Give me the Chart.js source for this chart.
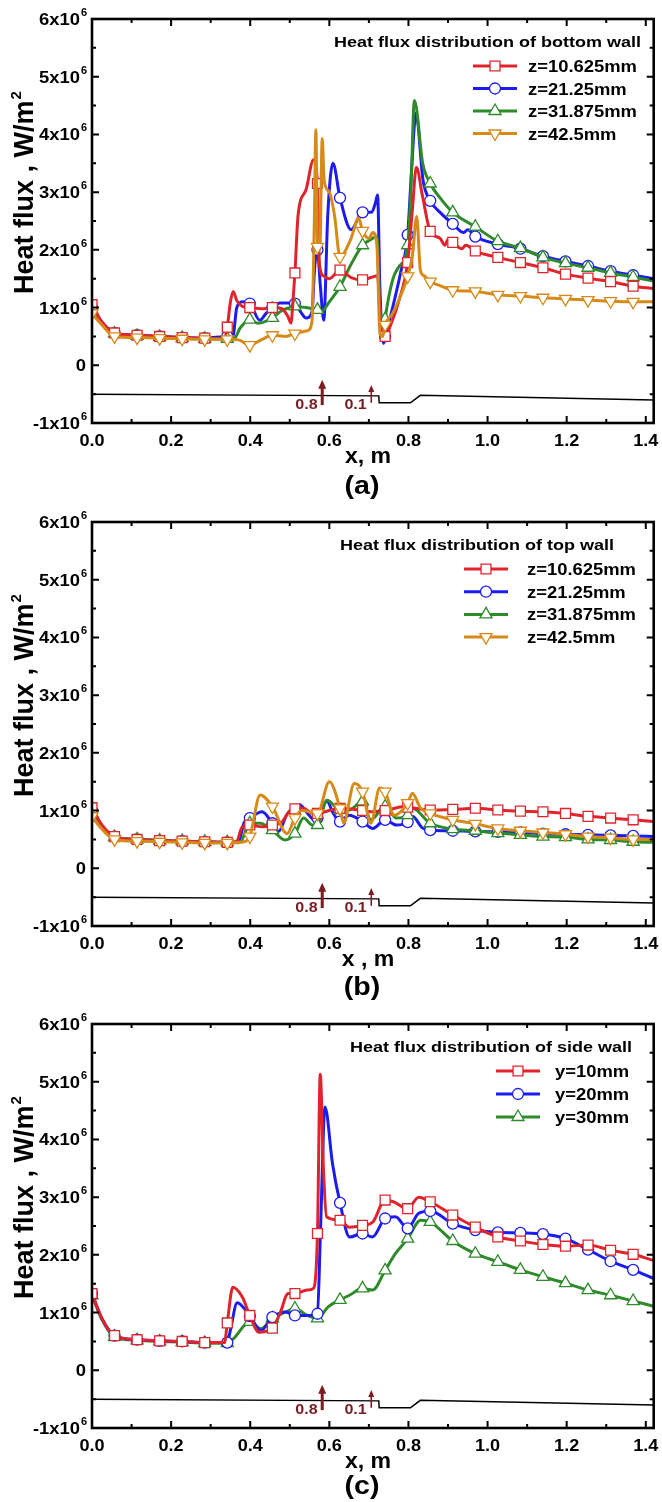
<!DOCTYPE html>
<html>
<head>
<meta charset="utf-8">
<script src="https://cdn.jsdelivr.net/npm/chart.js@4.4.0/dist/chart.umd.min.js"></script>
<style>
  body { margin: 0; background: #fff; }
  .panel { position: absolute; left: 0; width: 662px; }
</style>
</head>
<body>
<div class="panel" style="top:0"><canvas id="chartA" width="662" height="500"></canvas></div>
<div class="panel" style="top:503px"><canvas id="chartB" width="662" height="500"></canvas></div>
<div class="panel" style="top:1005px"><canvas id="chartC" width="662" height="497"></canvas></div>
<script>
// ----- DATOS (heat flux en unidades de 10^6 W/m2, x en m) -----

// posiciones x donde se dibujan los símbolos
const markX = [0, 0.057, 0.114, 0.171, 0.228, 0.285, 0.342, 0.399, 0.456, 0.513, 0.57, 0.627, 0.684,
  0.741, 0.798, 0.855, 0.912, 0.969, 1.026, 1.083, 1.14, 1.197, 1.254, 1.311, 1.368];

// ejes
const xMajor = [0, 0.2, 0.4, 0.6, 0.8, 1.0, 1.2, 1.4];
const xMinor = [0.1, 0.3, 0.5, 0.7, 0.9, 1.1, 1.3];
const xLabels = ['0.0', '0.2', '0.4', '0.6', '0.8', '1.0', '1.2', '1.4'];
const yMajor = [-1, 0, 1, 2, 3, 4, 5, 6];
const yMinor = [-0.5, 0.5, 1.5, 2.5, 3.5, 4.5, 5.5];
const yLabels = ['-1x10', '0', '1x10', '2x10', '3x10', '4x10', '5x10', '6x10'];

// perfil del canal (línea negra)
const wallProfile = [[0, -0.5], [0.725, -0.53], [0.726, -0.65], [0.805, -0.65], [0.83, -0.52], [1.42, -0.6]];

// flechas de inyección
const arrowX = [0.582, 0.706];
const arrowFrom = [-0.69, -0.65];
const arrowTo = [-0.25, -0.34];
const arrowLabels = ['0.8', '0.1'];

// (a) pared inferior
const bottomZ1 = [[0,1.05],[0.025,0.75],[0.057,0.56],[0.114,0.52],[0.171,0.5],[0.228,0.48],[0.285,0.47],[0.334,0.46],[0.342,0.66],[0.35,1.1],[0.357,1.28],[0.366,1.12],[0.38,1.02],[0.399,1.0],[0.43,0.98],[0.456,1.0],[0.48,0.98],[0.495,0.85],[0.503,0.73],[0.508,1.1],[0.513,1.6],[0.521,2.6],[0.541,3.04],[0.56,3.56],[0.57,3.15],[0.575,1.75],[0.585,1.55],[0.6,1.5],[0.627,1.65],[0.655,1.52],[0.684,1.48],[0.705,1.52],[0.722,1.55],[0.729,0.8],[0.741,0.5],[0.755,0.7],[0.775,1.1],[0.798,1.78],[0.81,2.7],[0.82,3.43],[0.835,2.95],[0.855,2.32],[0.88,2.2],[0.892,2.08],[0.9,2.18],[0.912,2.13],[0.935,2.02],[0.945,2.08],[0.969,1.98],[1.026,1.87],[1.083,1.78],[1.14,1.69],[1.197,1.58],[1.254,1.51],[1.311,1.45],[1.368,1.37],[1.42,1.33]];
const bottomZ2 = [[0,1.0],[0.025,0.75],[0.057,0.56],[0.114,0.52],[0.171,0.5],[0.228,0.48],[0.285,0.47],[0.342,0.5],[0.356,0.5],[0.366,1.0],[0.38,1.1],[0.399,1.07],[0.424,0.78],[0.44,0.9],[0.456,1.0],[0.475,1.08],[0.495,1.08],[0.513,1.07],[0.527,0.93],[0.541,0.82],[0.556,0.92],[0.563,1.7],[0.57,2.0],[0.577,1.4],[0.586,0.78],[0.596,2.6],[0.609,3.5],[0.627,2.9],[0.655,2.35],[0.684,2.65],[0.706,2.65],[0.716,2.8],[0.722,2.95],[0.728,1.3],[0.737,0.38],[0.741,0.5],[0.76,1.0],[0.78,1.6],[0.798,2.26],[0.808,3.4],[0.819,4.37],[0.837,3.2],[0.855,2.85],[0.88,2.65],[0.912,2.45],[0.94,2.3],[0.95,2.35],[0.969,2.23],[1.026,2.1],[1.083,2.02],[1.14,1.89],[1.197,1.8],[1.254,1.72],[1.311,1.63],[1.368,1.56],[1.42,1.5]];
const bottomZ3 = [[0,0.95],[0.025,0.72],[0.057,0.55],[0.114,0.51],[0.171,0.49],[0.228,0.47],[0.285,0.46],[0.342,0.46],[0.36,0.47],[0.375,0.65],[0.399,0.79],[0.42,0.73],[0.456,0.82],[0.48,0.95],[0.5,1.0],[0.513,1.02],[0.54,1.0],[0.57,0.96],[0.58,0.93],[0.6,1.1],[0.627,1.36],[0.655,1.75],[0.684,2.08],[0.705,2.18],[0.72,2.23],[0.728,1.0],[0.737,0.55],[0.741,0.8],[0.76,1.48],[0.775,1.7],[0.798,2.08],[0.806,3.0],[0.815,4.59],[0.836,3.5],[0.855,3.15],[0.88,2.9],[0.912,2.65],[0.969,2.4],[1.026,2.15],[1.083,2.03],[1.14,1.87],[1.197,1.77],[1.254,1.69],[1.311,1.6],[1.368,1.53],[1.42,1.46]];
const bottomZ4 = [[0,0.9],[0.025,0.7],[0.057,0.5],[0.114,0.48],[0.171,0.47],[0.228,0.46],[0.285,0.45],[0.342,0.45],[0.37,0.44],[0.399,0.35],[0.43,0.45],[0.456,0.52],[0.49,0.5],[0.513,0.55],[0.545,0.6],[0.556,0.75],[0.562,2.5],[0.566,4.08],[0.57,2.05],[0.576,2.0],[0.582,3.93],[0.587,3.2],[0.6,3.0],[0.613,2.6],[0.627,1.88],[0.655,2.2],[0.674,2.55],[0.684,2.33],[0.7,2.2],[0.71,2.3],[0.72,2.1],[0.728,0.55],[0.735,0.5],[0.741,0.7],[0.76,0.9],[0.78,1.2],[0.798,1.54],[0.81,1.9],[0.821,2.58],[0.83,1.65],[0.84,1.55],[0.855,1.45],[0.88,1.38],[0.912,1.3],[0.969,1.28],[1.026,1.22],[1.083,1.2],[1.14,1.17],[1.197,1.15],[1.254,1.13],[1.311,1.11],[1.368,1.1],[1.42,1.1]];

// (b) pared superior
const topZ1 = [[0,1.05],[0.025,0.75],[0.057,0.55],[0.114,0.5],[0.171,0.48],[0.228,0.47],[0.285,0.46],[0.342,0.45],[0.365,0.46],[0.38,0.72],[0.399,0.75],[0.43,0.72],[0.456,0.75],[0.48,0.8],[0.5,1.0],[0.513,1.03],[0.535,1.04],[0.557,0.95],[0.57,0.95],[0.6,1.0],[0.627,1.04],[0.684,1.0],[0.705,0.98],[0.741,1.0],[0.79,1.07],[0.798,1.06],[0.855,1.01],[0.912,1.02],[0.969,1.04],[1.026,1.01],[1.083,0.99],[1.14,0.98],[1.197,0.95],[1.254,0.9],[1.311,0.87],[1.368,0.84],[1.42,0.81]];
const topZ2 = [[0,1.0],[0.025,0.72],[0.057,0.55],[0.114,0.5],[0.171,0.48],[0.228,0.47],[0.285,0.46],[0.342,0.45],[0.37,0.46],[0.385,0.8],[0.399,0.87],[0.43,0.98],[0.456,0.78],[0.472,0.64],[0.495,0.95],[0.513,0.98],[0.525,1.1],[0.545,0.95],[0.562,0.84],[0.57,0.87],[0.594,1.16],[0.61,0.95],[0.627,0.81],[0.65,0.92],[0.684,0.81],[0.71,0.69],[0.741,0.84],[0.77,0.75],[0.798,0.8],[0.81,0.9],[0.835,0.7],[0.855,0.66],[0.912,0.65],[0.969,0.64],[1.026,0.63],[1.083,0.62],[1.14,0.6],[1.197,0.59],[1.254,0.58],[1.311,0.57],[1.368,0.56],[1.42,0.55]];
const topZ3 = [[0,0.95],[0.025,0.7],[0.057,0.54],[0.114,0.5],[0.171,0.48],[0.228,0.47],[0.285,0.46],[0.342,0.45],[0.375,0.46],[0.399,0.78],[0.425,0.78],[0.456,0.66],[0.488,0.49],[0.513,0.6],[0.535,0.87],[0.557,0.75],[0.57,0.75],[0.594,1.18],[0.627,1.01],[0.65,1.01],[0.684,1.16],[0.705,0.84],[0.741,1.07],[0.77,0.87],[0.798,0.92],[0.81,1.04],[0.855,0.78],[0.912,0.68],[0.969,0.65],[1.026,0.61],[1.083,0.58],[1.14,0.55],[1.197,0.54],[1.254,0.5],[1.311,0.49],[1.368,0.46],[1.42,0.45]];
const topZ4 = [[0,0.9],[0.025,0.68],[0.057,0.5],[0.114,0.47],[0.171,0.46],[0.228,0.45],[0.285,0.44],[0.342,0.44],[0.385,0.46],[0.399,0.55],[0.425,1.27],[0.456,1.07],[0.493,0.6],[0.513,0.87],[0.53,1.0],[0.57,0.95],[0.6,1.5],[0.627,1.04],[0.636,0.78],[0.663,1.47],[0.684,1.33],[0.705,0.78],[0.727,1.39],[0.741,1.33],[0.764,0.92],[0.798,1.13],[0.81,1.3],[0.83,1.05],[0.855,0.95],[0.912,0.84],[0.969,0.77],[1.026,0.69],[1.083,0.65],[1.14,0.62],[1.197,0.59],[1.254,0.55],[1.311,0.53],[1.368,0.5],[1.42,0.5]];

// (c) pared lateral
const sideY10 = [[0,1.33],[0.025,0.9],[0.057,0.6],[0.114,0.53],[0.171,0.51],[0.228,0.5],[0.285,0.48],[0.335,0.48],[0.342,0.82],[0.356,1.44],[0.38,1.27],[0.399,0.95],[0.422,0.66],[0.456,0.73],[0.475,0.98],[0.496,1.33],[0.513,1.33],[0.544,1.39],[0.56,1.42],[0.57,2.37],[0.577,5.13],[0.585,3.5],[0.593,2.66],[0.627,2.6],[0.65,2.48],[0.684,2.51],[0.71,2.57],[0.741,2.95],[0.762,2.92],[0.798,2.8],[0.826,3.0],[0.855,2.92],[0.912,2.69],[0.969,2.48],[1.026,2.31],[1.083,2.24],[1.14,2.18],[1.197,2.15],[1.254,2.17],[1.311,2.08],[1.368,2.01],[1.42,1.9]];
const sideY20 = [[0,1.33],[0.025,0.9],[0.057,0.6],[0.114,0.53],[0.171,0.51],[0.228,0.5],[0.285,0.48],[0.342,0.48],[0.35,0.7],[0.367,1.17],[0.399,0.94],[0.427,0.69],[0.456,0.92],[0.49,1.01],[0.513,0.95],[0.544,0.95],[0.57,0.98],[0.578,2.5],[0.589,4.56],[0.608,3.58],[0.627,2.9],[0.651,2.31],[0.684,2.37],[0.709,2.31],[0.741,2.63],[0.767,2.66],[0.798,2.46],[0.826,2.72],[0.855,2.76],[0.912,2.54],[0.969,2.43],[1.026,2.39],[1.083,2.38],[1.14,2.36],[1.197,2.28],[1.254,2.09],[1.311,1.89],[1.368,1.74],[1.42,1.59]];
const sideY30 = [[0,1.3],[0.025,0.88],[0.057,0.58],[0.114,0.52],[0.171,0.5],[0.228,0.49],[0.285,0.47],[0.342,0.47],[0.358,0.55],[0.399,0.84],[0.427,0.72],[0.456,0.9],[0.49,1.01],[0.513,1.07],[0.544,0.95],[0.57,0.9],[0.597,1.1],[0.627,1.22],[0.651,1.3],[0.684,1.42],[0.709,1.39],[0.741,1.73],[0.767,2.02],[0.798,2.28],[0.831,2.6],[0.855,2.57],[0.912,2.24],[0.969,2.02],[1.026,1.88],[1.083,1.74],[1.14,1.62],[1.197,1.51],[1.254,1.39],[1.311,1.3],[1.368,1.2],[1.42,1.11]];

// ----- ESTILO -----
const FONT = '"Liberation Sans", Arial, Helvetica, sans-serif';
const RED = '#e0242c', BLUE = '#1c1cf0', GREEN = '#2f8a2c', ORANGE = '#d68a1a', ARROW = '#7a1c22';
const markSet = new Set(markX);

const styles = {
  square: { pointStyle: 'rect', rot: 0, r: 7 },
  circle: { pointStyle: 'circle', rot: 0, r: 5.5 },
  up: { pointStyle: 'triangle', rot: 0, r: 7 },
  down: { pointStyle: 'triangle', rot: 180, r: 7 }
};

// texto con estiramiento horizontal (la figura original está ensanchada)
function txt(ctx, s, x, y, size, align, sx, color, weight) {
  ctx.save();
  ctx.font = (weight || 'bold') + ' ' + size + 'px ' + FONT;
  ctx.fillStyle = color || '#000';
  ctx.textAlign = align;
  ctx.textBaseline = 'alphabetic';
  ctx.translate(x, y);
  ctx.scale(sx, 1);
  ctx.fillText(s, 0, 0);
  ctx.restore();
}

function drawMarker(ctx, st, color, x, y) {
  ctx.save();
  ctx.fillStyle = '#fff';
  ctx.strokeStyle = color;
  ctx.lineWidth = 1.3;
  ctx.beginPath();
  if (st.pointStyle === 'rect') {
    const h = st.r * Math.SQRT1_2;
    ctx.rect(x - h, y - h, 2 * h, 2 * h);
  } else if (st.pointStyle === 'circle') {
    ctx.arc(x, y, st.r, 0, Math.PI * 2);
  } else {
    const s = st.rot ? -1 : 1;
    ctx.moveTo(x, y - s * st.r);
    ctx.lineTo(x + st.r * 0.866, y + s * st.r * 0.5);
    ctx.lineTo(x - st.r * 0.866, y + s * st.r * 0.5);
    ctx.closePath();
  }
  ctx.fill();
  ctx.stroke();
  ctx.restore();
}

// plugin: marco, ticks interiores, etiquetas, leyenda, flechas
const decor = {
  id: 'decor',
  afterDatasetsDraw(chart, args, o) {
    const ctx = chart.ctx;
    const xs = chart.scales.x, ys = chart.scales.y;
    const a = chart.chartArea;
    ctx.save();

    // flechas
    arrowX.forEach((v, i) => {
      const px = xs.getPixelForValue(v);
      const y0 = ys.getPixelForValue(arrowFrom[i]);
      const y1 = ys.getPixelForValue(arrowTo[i]);
      const w = i === 0 ? 3 : 1.6, hw = i === 0 ? 4 : 3, hh = i === 0 ? 9 : 7;
      ctx.strokeStyle = ARROW; ctx.fillStyle = ARROW; ctx.lineWidth = w;
      ctx.beginPath(); ctx.moveTo(px, y0); ctx.lineTo(px, y1 + hh - 1); ctx.stroke();
      ctx.beginPath(); ctx.moveTo(px, y1); ctx.lineTo(px + hw, y1 + hh); ctx.lineTo(px - hw, y1 + hh); ctx.closePath(); ctx.fill();
      txt(ctx, arrowLabels[i], px - 4.5, ys.getPixelForValue(-0.75), 14, 'right', 1.15, ARROW);
    });

    // marco
    ctx.strokeStyle = '#000';
    ctx.lineWidth = 2.6;
    ctx.strokeRect(a.left, a.top, a.right - a.left, a.bottom - a.top);

    // ticks hacia dentro
    ctx.lineWidth = 2;
    ctx.beginPath();
    const tx = (list, len) => list.forEach(v => {
      const p = xs.getPixelForValue(v);
      ctx.moveTo(p, a.bottom); ctx.lineTo(p, a.bottom - len);
      ctx.moveTo(p, a.top); ctx.lineTo(p, a.top + len);
    });
    const ty = (list, len) => list.forEach(v => {
      const p = ys.getPixelForValue(v);
      ctx.moveTo(a.left, p); ctx.lineTo(a.left + len, p);
      ctx.moveTo(a.right, p); ctx.lineTo(a.right - len, p);
    });
    tx(xMajor, 7); tx(xMinor, 4); ty(yMajor, 7); ty(yMinor, 4);
    ctx.stroke();

    // etiquetas de ticks
    xMajor.forEach((v, i) => txt(ctx, xLabels[i], xs.getPixelForValue(v), a.bottom + 23, 16, 'center', 1.13));
    yMajor.forEach((v, i) => {
      const p = ys.getPixelForValue(v);
      if (v === 0) {
        txt(ctx, yLabels[i], 86, p + 6, 16, 'right', 1.15);
      } else {
        txt(ctx, yLabels[i], 80, p + 6, 16, 'right', 1.15);
        txt(ctx, '6', 81, p - 3, 10, 'left', 1.1);
      }
    });

    // títulos de ejes
    txt(ctx, o.xTitle, 368, 463, 22, 'center', 1.05);
    ctx.save();
    ctx.translate(33, 193);
    ctx.rotate(-Math.PI / 2);
    ctx.font = 'bold 27px ' + FONT;
    const base = 'Heat flux , W/m';
    const w1 = ctx.measureText(base).width;
    ctx.font = 'bold 15px ' + FONT;
    const w2 = ctx.measureText('2').width;
    const start = -(w1 + w2) / 2;
    ctx.fillStyle = '#000';
    ctx.textAlign = 'left';
    ctx.font = 'bold 27px ' + FONT;
    ctx.fillText(base, start, 0);
    ctx.font = 'bold 15px ' + FONT;
    ctx.fillText('2', start + w1 + 1, -12);
    ctx.restore();

    // etiqueta del panel
    txt(ctx, o.tag, 362, o.tagY, 26, 'center', 1.1);

    // leyenda
    txt(ctx, o.title, o.titleX, 47, 15, 'left', 1.2);
    o.entries.forEach((e, i) => {
      const ry = 66 + i * o.rowGap;
      ctx.strokeStyle = e.color; ctx.lineWidth = 3;
      ctx.beginPath(); ctx.moveTo(o.legX - 22, ry); ctx.lineTo(o.legX + 22, ry); ctx.stroke();
      drawMarker(ctx, styles[e.mark], e.color, o.legX, ry);
      txt(ctx, e.label, o.textX, ry + 6, 16, 'left', 1.15);
    });
    ctx.restore();
  }
};

function series(points, label, color, mark, order) {
  const st = styles[mark];
  return {
    label: label,
    data: points.map(p => ({ x: p[0], y: p[1] })),
    borderColor: color,
    borderWidth: 3,
    cubicInterpolationMode: 'monotone',
    pointStyle: st.pointStyle,
    pointRotation: st.rot,
    pointRadius: c => (c.raw && markSet.has(c.raw.x)) ? st.r : 0,
    pointBackgroundColor: '#fff',
    pointBorderColor: color,
    pointBorderWidth: 1.3,
    order: order
  };
}

function profile() {
  return {
    label: 'wall',
    data: wallProfile.map(p => ({ x: p[0], y: p[1] })),
    borderColor: '#000',
    borderWidth: 1.5,
    pointRadius: 0,
    tension: 0,
    order: 20
  };
}

function makeChart(id, datasets, deco) {
  return new Chart(document.getElementById(id), {
    type: 'line',
    data: { datasets: datasets.concat([profile()]) },
    options: {
      responsive: false,
      animation: false,
      devicePixelRatio: 1,
      events: [],
      layout: { padding: { top: 19, right: 7, left: 0, bottom: 0 } },
      scales: {
        x: {
          type: 'linear', min: 0, max: 1.42,
          ticks: { display: false }, grid: { display: false }, border: { display: false },
          afterFit: s => { s.height = s.chart.height - 423; }
        },
        y: {
          type: 'linear', min: -1, max: 6,
          ticks: { display: false }, grid: { display: false }, border: { display: false },
          afterFit: s => { s.width = 92; }
        }
      },
      plugins: { legend: { display: false }, tooltip: { enabled: false }, decor: deco }
    },
    plugins: [decor]
  });
}

const zEntries = [
  { label: 'z=10.625mm', color: RED, mark: 'square' },
  { label: 'z=21.25mm', color: BLUE, mark: 'circle' },
  { label: 'z=31.875mm', color: GREEN, mark: 'up' },
  { label: 'z=42.5mm', color: ORANGE, mark: 'down' }
];

makeChart('chartA', [
  series(bottomZ1, 'z=10.625mm', RED, 'square', 2),
  series(bottomZ2, 'z=21.25mm', BLUE, 'circle', 4),
  series(bottomZ3, 'z=31.875mm', GREEN, 'up', 3),
  series(bottomZ4, 'z=42.5mm', ORANGE, 'down', 1)
], { title: 'Heat flux distribution of bottom wall', titleX: 334, legX: 495, textX: 528, rowGap: 22.5,
     entries: zEntries, xTitle: 'x, m', tag: '(a)', tagY: 494 });

makeChart('chartB', [
  series(topZ1, 'z=10.625mm', RED, 'square', 2),
  series(topZ2, 'z=21.25mm', BLUE, 'circle', 4),
  series(topZ3, 'z=31.875mm', GREEN, 'up', 3),
  series(topZ4, 'z=42.5mm', ORANGE, 'down', 1)
], { title: 'Heat flux distribution of top wall', titleX: 340, legX: 486, textX: 527, rowGap: 22.7,
     entries: zEntries, xTitle: 'x , m', tag: '(b)', tagY: 492 });

makeChart('chartC', [
  series(sideY10, 'y=10mm', RED, 'square', 1),
  series(sideY20, 'y=20mm', BLUE, 'circle', 2),
  series(sideY30, 'y=30mm', GREEN, 'up', 3)
], { title: 'Heat flux distribution of side wall', titleX: 350, legX: 518, textX: 555, rowGap: 23,
     entries: [
       { label: 'y=10mm', color: RED, mark: 'square' },
       { label: 'y=20mm', color: BLUE, mark: 'circle' },
       { label: 'y=30mm', color: GREEN, mark: 'up' }
     ], xTitle: 'x, m', tag: '(c)', tagY: 489 });
</script>
</body>
</html>
